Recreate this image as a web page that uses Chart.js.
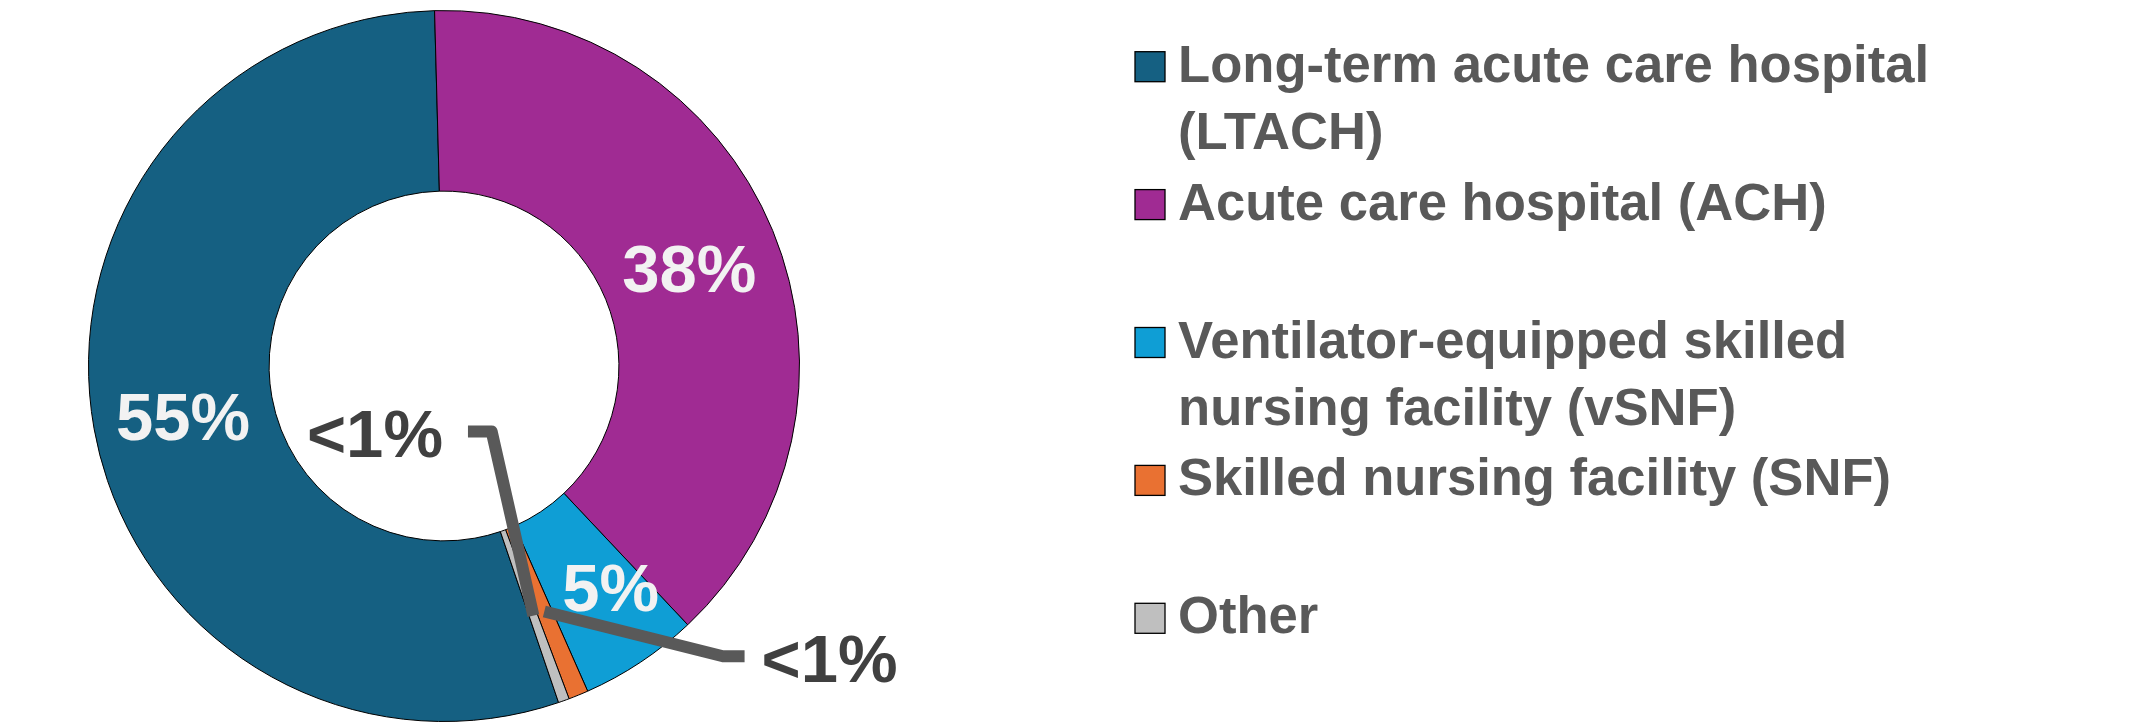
<!DOCTYPE html>
<html>
<head>
<meta charset="utf-8">
<script src="https://cdn.jsdelivr.net/npm/chart.js@4.4.1/dist/chart.umd.min.js"></script>
<style>
  html, body { margin: 0; padding: 0; background: #ffffff; }
  #wrap { width: 2155px; height: 722px; position: relative; }
</style>
</head>
<body>
<div id="wrap"><canvas id="c"></canvas></div>
<script>
// ---- data ----
const categories = [
  ['Long-term acute care hospital', '(LTACH)'],
  ['Acute care hospital (ACH)'],
  ['Ventilator-equipped skilled', 'nursing facility (vSNF)'],
  ['Skilled nursing facility (SNF)'],
  ['Other']
];
const shares = [54.8, 38.4, 5.4, 0.9, 0.5];
const colors = ['#156082', '#A02B93', '#0F9ED5', '#E97132', '#BFBFBF'];

// ---- styling / layout (not data) ----
const FONT = '"Liberation Sans", Arial, sans-serif';
const labelSize = 67;
const labelNudgeX = [0, 0, 20, 0, 0];
const labelNudgeY = [3, 3, 0, 0, 0];
// callouts for thin slices: elbow & stub end as fractions of outer radius from centre
const callouts = [
  { index: 4, elbow: [0.134, 0.184], stubX: 0.0674, side: 'left', gap: 25 },
  { index: 3, elbow: [0.7846, 0.8166], stubX: 0.8455, side: 'right', gap: 17 }
];
const legendLayout = { boxX: 1135, box: 30, textX: 1178, firstBaseline: 81.7, slotStep: 68.95, lineStep: 67.5, size: 52.6 };

function pctText(v) { return v < 1 ? '<1%' : Math.round(v) + '%'; }

const sliceLabels = {
  id: 'sliceLabels',
  afterDatasetsDraw(chart) {
    const ctx = chart.ctx;
    const meta = chart.getDatasetMeta(0);
    ctx.save();
    ctx.font = 'bold ' + labelSize + 'px ' + FONT;
    ctx.textBaseline = 'alphabetic';
    meta.data.forEach((arc, i) => {
      const text = pctText(shares[i]);
      const p = arc.getCenterPoint();
      const co = callouts.find(c => c.index === i);
      if (!co) {
        ctx.fillStyle = '#F2F2F2';
        ctx.textAlign = 'center';
        ctx.fillText(text, p.x + labelNudgeX[i], p.y + labelNudgeY[i] + 0.358 * labelSize);
      } else {
        const R = arc.outerRadius;
        const cx = arc.x, cy = arc.y;
        const ex = cx + co.elbow[0] * R, ey = cy + co.elbow[1] * R;
        const sx = cx + co.stubX * R;
        ctx.strokeStyle = '#595959';
        ctx.lineWidth = 12;
        ctx.lineJoin = 'round';
        ctx.lineCap = 'butt';
        ctx.beginPath();
        ctx.moveTo(p.x, p.y);
        ctx.lineTo(ex, ey);
        ctx.lineTo(sx, ey);
        ctx.stroke();
        ctx.fillStyle = '#404040';
        if (co.side === 'left') {
          ctx.textAlign = 'right';
          ctx.fillText(text, sx - co.gap, ey + 1.5 + 0.358 * labelSize);
        } else {
          ctx.textAlign = 'left';
          ctx.fillText(text, sx + co.gap, ey + 1.5 + 0.358 * labelSize);
        }
      }
    });
    ctx.restore();
  }
};

const sideLegend = {
  id: 'sideLegend',
  afterDraw(chart) {
    const ctx = chart.ctx;
    const L = legendLayout;
    ctx.save();
    ctx.font = 'bold ' + L.size + 'px ' + FONT;
    ctx.textAlign = 'left';
    ctx.textBaseline = 'alphabetic';
    const ds = chart.data.datasets[0];
    chart.data.labels.forEach((lines, i) => {
      const base = L.firstBaseline + i * 2 * L.slotStep;
      ctx.fillStyle = ds.backgroundColor[i];
      ctx.fillRect(L.boxX, base - L.box, L.box, L.box);
      ctx.strokeStyle = '#000000';
      ctx.lineWidth = 1.3;
      ctx.strokeRect(L.boxX, base - L.box, L.box, L.box);
      ctx.fillStyle = '#595959';
      lines.forEach((t, j) => ctx.fillText(t, L.textX, base + j * L.lineStep));
    });
    ctx.restore();
  }
};

new Chart(document.getElementById('c'), {
  type: 'doughnut',
  data: {
    labels: categories,
    datasets: [{
      data: shares,
      backgroundColor: colors,
      borderColor: '#000000',
      borderWidth: 1,
      hoverOffset: 0
    }]
  },
  options: {
    responsive: true,
    maintainAspectRatio: false,
    animation: false,
    rotation: 161.2,
    cutout: '49.2%',
    layout: { padding: { left: 88, right: 1355, top: 10, bottom: 0 } },
    plugins: {
      legend: { display: false },
      tooltip: { enabled: true }
    }
  },
  plugins: [sliceLabels, sideLegend]
});
</script>
</body>
</html>
